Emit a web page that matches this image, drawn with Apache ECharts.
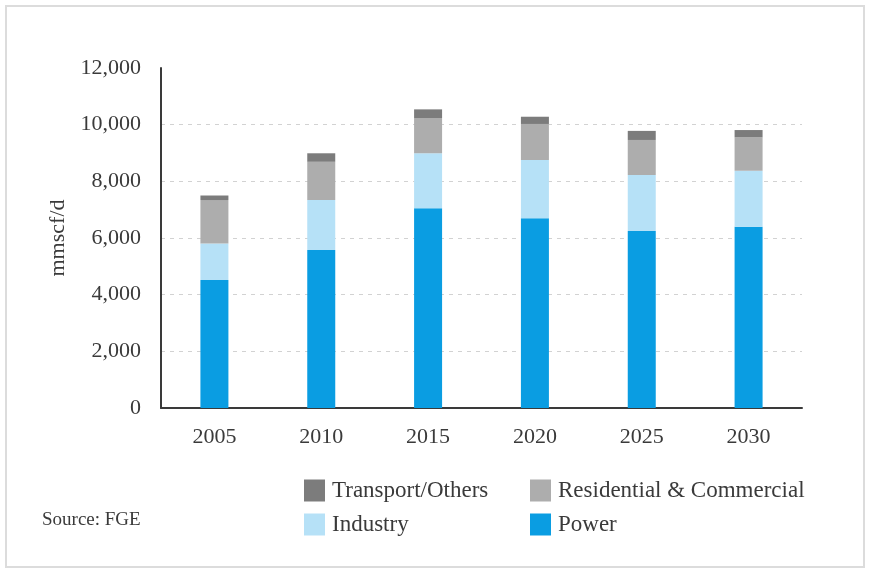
<!DOCTYPE html>
<html>
<head>
<meta charset="utf-8">
<title>Gas demand by sector</title>
<script src="https://cdn.jsdelivr.net/npm/echarts@6/dist/echarts.min.js"></script>
<style>
  html, body { margin: 0; padding: 0; background: #ffffff; }
  #chart { width: 871px; height: 571px; }
</style>
</head>
<body>
<div id="chart"></div>
<script>
// Gas demand by sector, mmscf/d
const years = ['2005', '2010', '2015', '2020', '2025', '2030'];
const power = [4520, 5580, 7050, 6700, 6250, 6400];
const industry = [1290, 1760, 1940, 2050, 1975, 1975];
const residential = [1530, 1350, 1235, 1275, 1235, 1180];
const transport = [160, 300, 315, 255, 320, 255];

const seriesNames = ['Power', 'Industry', 'Residential & Commercial', 'Transport/Others'];
const seriesColors = ['#0a9de2', '#b6e1f7', '#adadad', '#7c7c7c'];
const seriesData = [power, industry, residential, transport];

const FONT = '"Liberation Serif", "DejaVu Serif", serif';
const TEXT = '#3a3a3a';

const chart = echarts.init(document.getElementById('chart'), null, { renderer: 'canvas' });

function legendAt(name, left, top) {
  return {
    data: [name],
    left: left,
    top: top,
    orient: 'horizontal',
    icon: 'rect',
    itemWidth: 21,
    itemHeight: 22,
    selectedMode: false,
    padding: 0,
    textStyle: { fontFamily: FONT, fontSize: 23, color: TEXT, padding: [0, 0, 0, 2] }
  };
}

chart.setOption({
  animation: false,
  backgroundColor: '#ffffff',
  grid: { left: 161, right: 69, top: 68, bottom: 163 },
  legend: [
    legendAt('Transport/Others', 304, 479),
    legendAt('Residential & Commercial', 530, 479),
    legendAt('Industry', 304, 513),
    legendAt('Power', 530, 513)
  ],
  graphic: [
    {
      type: 'rect',
      shape: { x: 6, y: 6, width: 858, height: 561 },
      style: { fill: 'none', stroke: '#dcdcdc', lineWidth: 2 },
      silent: true,
      z: -10
    },
    {
      type: 'text',
      left: 42,
      top: 511,
      style: { text: 'Source: FGE', font: '19px ' + FONT, fill: TEXT }
    }
  ],
  xAxis: {
    type: 'category',
    data: years,
    axisLine: { show: true, lineStyle: { color: '#3a3a3a', width: 2 } },
    axisTick: { show: false },
    axisLabel: { fontFamily: FONT, fontSize: 22, color: TEXT, margin: 18 }
  },
  yAxis: {
    type: 'value',
    min: 0,
    max: 12000,
    interval: 2000,
    name: 'mmscf/d',
    nameLocation: 'middle',
    nameRotate: 90,
    nameGap: 88,
    nameTextStyle: { fontFamily: FONT, fontSize: 22, color: TEXT },
    axisLine: { show: true, lineStyle: { color: '#3a3a3a', width: 2 } },
    axisTick: { show: false },
    axisLabel: {
      fontFamily: FONT,
      fontSize: 22,
      color: TEXT,
      margin: 20,
      formatter: v => v.toLocaleString('en-US')
    },
    splitLine: {
      show: true,
      lineStyle: {
        type: [4, 5],
        width: 1,
        color: ['rgba(0,0,0,0)', '#d2d2d2', '#d2d2d2', '#d2d2d2', '#d2d2d2', '#d2d2d2', 'rgba(0,0,0,0)']
      }
    }
  },
  series: seriesNames.map((name, i) => ({
    name: name,
    type: 'bar',
    stack: 'total',
    barWidth: 28,
    data: seriesData[i],
    itemStyle: { color: seriesColors[i] }
  }))
});
</script>
</body>
</html>
